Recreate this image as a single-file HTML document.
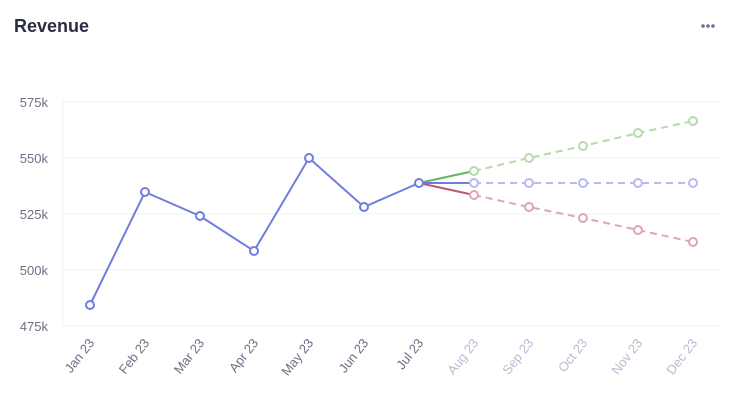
<!DOCTYPE html>
<html><head><style>
body{margin:0;background:#fff;font-family:"Liberation Sans",sans-serif;}
</style></head><body>
<svg width="739" height="408" viewBox="0 0 739 408" xmlns="http://www.w3.org/2000/svg" font-family="Liberation Sans, sans-serif">
<text x="14" y="32" font-size="18" font-weight="bold" fill="#2b2d42">Revenue</text>
<g fill="#6b6f9a"><circle cx="703" cy="26" r="1.8"/><circle cx="708" cy="26" r="1.8"/><circle cx="713" cy="26" r="1.8"/></g>
<g stroke="#eef0f5" stroke-width="1">
<line x1="63" y1="102" x2="720" y2="102"/><line x1="63" y1="158" x2="720" y2="158"/>
<line x1="63" y1="214" x2="720" y2="214"/><line x1="63" y1="270" x2="720" y2="270"/>
<line x1="63" y1="326" x2="720" y2="326"/><line x1="63" y1="102" x2="63" y2="326"/>
</g>
<g font-size="13" fill="#6e7085" text-anchor="end">
<text x="48" y="107">575k</text><text x="48" y="163">550k</text><text x="48" y="219">525k</text><text x="48" y="275">500k</text><text x="48" y="331">475k</text>
</g>
<g font-size="13" text-anchor="end">
<text transform="translate(95,343) rotate(-52)" fill="#6e7085">Jan 23</text>
<text transform="translate(150,343) rotate(-52)" fill="#6e7085">Feb 23</text>
<text transform="translate(205,343) rotate(-52)" fill="#6e7085">Mar 23</text>
<text transform="translate(259,343) rotate(-52)" fill="#6e7085">Apr 23</text>
<text transform="translate(314,343) rotate(-52)" fill="#6e7085">May 23</text>
<text transform="translate(369,343) rotate(-52)" fill="#6e7085">Jun 23</text>
<text transform="translate(424,343) rotate(-52)" fill="#6e7085">Jul 23</text>
<text transform="translate(479,343) rotate(-52)" fill="#b9bbd3">Aug 23</text>
<text transform="translate(534,343) rotate(-52)" fill="#b9bbd3">Sep 23</text>
<text transform="translate(588,343) rotate(-52)" fill="#b9bbd3">Oct 23</text>
<text transform="translate(643,343) rotate(-52)" fill="#b9bbd3">Nov 23</text>
<text transform="translate(698,343) rotate(-52)" fill="#b9bbd3">Dec 23</text>
</g>
<g fill="none" stroke-width="2">
<polyline stroke="#b5dbac" stroke-dasharray="7,5" points="474,171 529,158 583,146 638,133 693,121"/>
<polyline stroke="#b8bbf0" stroke-dasharray="7,5" points="474,183 529,183 583,183 638,183 693,183"/>
<polyline stroke="#dca6b8" stroke-dasharray="7,5" points="474,195 529,207 583,218 638,230 693,242"/>
<line x1="419" y1="183" x2="474" y2="171" stroke="#66b360"/>
<line x1="419" y1="183" x2="474" y2="183" stroke="#6f7de0"/>
<line x1="419" y1="183" x2="474" y2="195" stroke="#b85a7b"/>
<polyline stroke="#6f7de0" points="90,305 145,192 200,216 254,251 309,158 364,207 419,183"/>
</g>
<g fill="#fff" stroke-width="2">
<g stroke="#b5dbac"><circle cx="474" cy="171" r="4"/><circle cx="529" cy="158" r="4"/><circle cx="583" cy="146" r="4"/><circle cx="638" cy="133" r="4"/><circle cx="693" cy="121" r="4"/></g>
<g stroke="#b8bbf0"><circle cx="474" cy="183" r="4"/><circle cx="529" cy="183" r="4"/><circle cx="583" cy="183" r="4"/><circle cx="638" cy="183" r="4"/><circle cx="693" cy="183" r="4"/></g>
<g stroke="#dca6b8"><circle cx="474" cy="195" r="4"/><circle cx="529" cy="207" r="4"/><circle cx="583" cy="218" r="4"/><circle cx="638" cy="230" r="4"/><circle cx="693" cy="242" r="4"/></g>
<g stroke="#6f7de0"><circle cx="90" cy="305" r="4"/><circle cx="145" cy="192" r="4"/><circle cx="200" cy="216" r="4"/><circle cx="254" cy="251" r="4"/><circle cx="309" cy="158" r="4"/><circle cx="364" cy="207" r="4"/><circle cx="419" cy="183" r="4"/></g>
</g>
</svg>
</body></html>
